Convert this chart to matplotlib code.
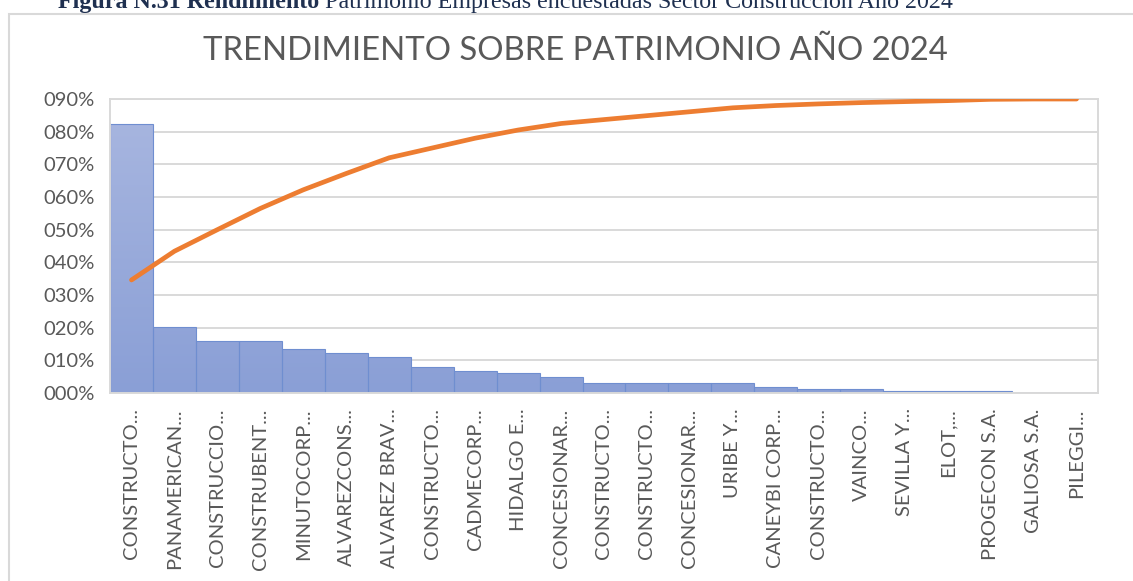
import numpy as np
import matplotlib
matplotlib.use("Agg")
import matplotlib.pyplot as plt
from matplotlib import font_manager
from matplotlib.colors import LinearSegmentedColormap
from matplotlib.patches import Rectangle

# data
empresas = ["CONSTRUCTO...", "PANAMERICAN...", "CONSTRUCCIO...", "CONSTRUBENT...",
            "MINUTOCORP...", "ALVAREZCONS...", "ALVAREZ BRAV...", "CONSTRUCTO...",
            "CADMECORP...", "HIDALGO E...", "CONCESIONAR...", "CONSTRUCTO...",
            "CONSTRUCTO...", "CONCESIONAR...", "URIBE Y...", "CANEYBI CORP...",
            "CONSTRUCTO...", "VAINCO...", "SEVILLA Y...", "ELOT,...",
            "PROGECON S.A.", "GALIOSA S.A.", "PILEGGI..."]
rendimiento = [0.825, 0.201, 0.158, 0.158, 0.135, 0.122, 0.110, 0.079, 0.067, 0.061,
               0.049, 0.030, 0.030, 0.030, 0.030, 0.018, 0.012, 0.012, 0.006, 0.006,
               0.005, 0.0, 0.0]
acumulado = [0.346, 0.434, 0.500, 0.565, 0.622, 0.672, 0.720, 0.750, 0.780, 0.805,
             0.825, 0.837, 0.849, 0.861, 0.873, 0.880, 0.885, 0.889, 0.892, 0.895,
             0.899, 0.900, 0.900]
yticks = [0.0, 0.1, 0.2, 0.3, 0.4, 0.5, 0.6, 0.7, 0.8, 0.9]

names = set(f.name for f in font_manager.fontManager.ttflist)
sans = "Liberation Sans Narrow" if "Liberation Sans Narrow" in names else "Lato"
plt.rcParams["font.family"] = [sans, "DejaVu Sans"]

gris = "#595959"
linea = "#D9D9D9"

fig = plt.figure(figsize=(11.33, 5.81), dpi=100)
fig.patch.set_facecolor("white")

# chart frame, partly outside the picture
fig.patches.append(Rectangle((9 / 1133, -0.1), 1.2, 1.1 - 14 / 581, transform=fig.transFigure,
                             facecolor="none", edgecolor=linea, lw=1.5))

# caption cut at the top, as in the source
cap = fig.text(58 / 1133, 1 - 8 / 581, "Figura N.31 Rendimiento", family="Liberation Serif",
               fontsize=17.3, fontweight="bold", color="#1F3050", va="baseline")
fig.canvas.draw()
bb = cap.get_window_extent()
fig.text((bb.x1 + 6) / 1133, 1 - 8 / 581,
         "Patrimonio Empresas encuestadas Sector Construcción Año 2024",
         family="Liberation Serif", fontsize=17.3, color="#1F3050", va="baseline")

fig.text(575 / 1133, 1 - 51 / 581, "TRENDIMIENTO SOBRE PATRIMONIO AÑO 2024",
         fontsize=23.7, color=gris, ha="center", va="center")

ax = fig.add_axes([110 / 1133, 1 - 393 / 581, 988 / 1133, 294 / 581])
x = np.arange(len(empresas))
bars = ax.bar(x, rendimiento, width=1.0, color="#8CA2D8", edgecolor="#6F8ED0", lw=0.8, zorder=2)

# vertical gradient, lighter towards the top of the axis
cmap = LinearSegmentedColormap.from_list("g", ["#8A9FD6", "#A9B7E0"])
for b in bars:
    h = b.get_height()
    if h <= 0:
        continue
    x0 = b.get_x()
    grad = np.linspace(0, h / 0.9, 256).reshape(-1, 1)
    im = ax.imshow(grad, extent=[x0, x0 + b.get_width(), 0, h], origin="lower",
                   aspect="auto", cmap=cmap, vmin=0, vmax=1, zorder=2.1)
    im.set_clip_path(b)
    b.set_facecolor("none")
    b.set_zorder(2.2)

ax.plot(x, acumulado, color="#ED7D31", lw=3.4, solid_capstyle="round", zorder=3)

ax.set_xlim(-0.5, len(empresas) - 0.5)
ax.set_ylim(0, 0.9)
ax.set_yticks(yticks)
ax.set_yticklabels(["%03d%%" % round(v * 100) for v in yticks])
ax.set_xticks(x)
ax.set_xticklabels(empresas, rotation=90, ha="center", va="top")
ax.tick_params(axis="both", length=0, labelsize=14.5, labelcolor=gris)
ax.tick_params(axis="y", pad=11)
ax.tick_params(axis="x", pad=11)
ax.grid(axis="y", color=linea, lw=1.4, zorder=1)
ax.set_axisbelow(True)
for s in ax.spines.values():
    s.set_color(linea)
    s.set_linewidth(1.4)

fig.savefig("out.png", dpi=100)
